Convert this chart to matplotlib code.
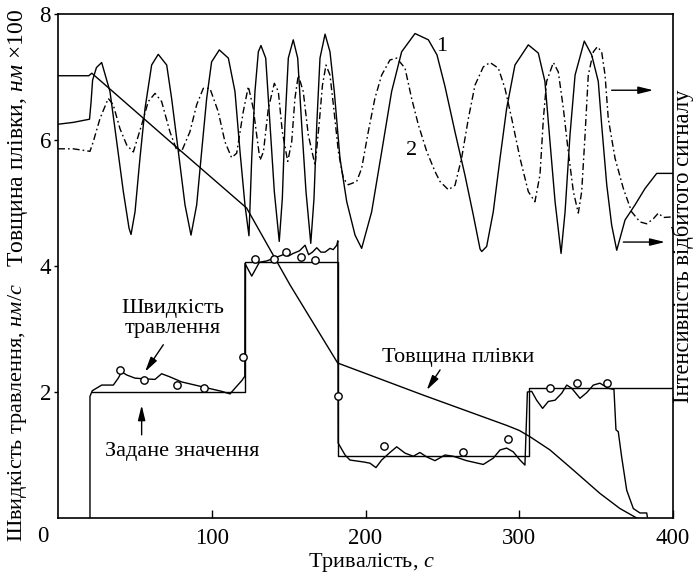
import matplotlib
matplotlib.use("Agg")
import matplotlib.pyplot as plt

plt.rcParams["font.family"] = ["Liberation Serif", "DejaVu Serif"]
plt.rcParams["mathtext.fontset"] = "custom"
plt.rcParams["mathtext.rm"] = "Liberation Serif"
plt.rcParams["mathtext.it"] = "Liberation Serif:italic"

# film thickness, nm x 100
thick_t = [0, 20, 22, 78.3, 122.7, 150.9, 181.9, 237.6, 291.8, 300, 307, 320, 335.2, 352.5, 365.5, 376.4]
thick_v = [7.02, 7.02, 7.06, 5.86, 4.92, 3.70, 2.46, 1.95, 1.47, 1.39, 1.29, 1.08, 0.76, 0.39, 0.15, 0.0]

# set value of etch rate, nm/s
set_t = [22.3, 121.6, 121.6, 181.9, 181.9, 306.5, 306.5, 400]
set_v = [2.0, 2.0, 4.07, 4.07, 0.99, 0.99, 2.07, 2.07]

# measured etch rate, nm/s
rate_t = [20.8, 20.8, 22.3, 28.4, 36.0, 39.2, 41.4, 44.7, 50.1, 55.5, 63.1, 67.4, 72.8,
          80.4, 89.1, 97.8, 106.5, 111.9, 115.1, 119.5, 121.5, 121.6, 123.8, 126.0,
          128.5, 131.0, 135.7, 139.0, 143.3, 146.5, 150.0, 153.0, 157.0, 160.7, 163.0,
          165.5, 168.3, 171.0, 173.7, 176.9, 179.0, 181.3, 182.0, 182.2, 186.7, 189.9,
          198.6, 202.9, 206.8, 210.5, 215.9, 220.3, 225.7, 231.1, 235.4, 239.8, 245.2,
          251.7, 257.1, 265.8, 276.6, 283.1, 287.5, 291.8, 296.1, 300.5, 303.7, 305.3,
          308.1, 311.3, 315.2, 318.9, 323.3, 327.6, 330.9, 334.1, 339.5, 343.9, 348.2,
          352.5, 357.9, 361.6, 362.9, 364.4, 366.6, 369.9, 374.2, 378.5, 382.9, 383.3]
rate_v = [0.0, 1.93, 2.02, 2.11, 2.11, 2.22, 2.32, 2.27, 2.22, 2.21, 2.20, 2.29, 2.24,
          2.16, 2.11, 2.06, 2.01, 1.97, 2.06, 2.18, 2.25, 4.04, 3.94, 3.84,
          3.95, 4.06, 4.08, 4.11, 4.15, 4.18, 4.16, 4.20, 4.24, 4.33, 4.18,
          4.22, 4.29, 4.22, 4.22, 4.28, 4.26, 4.33, 4.40, 1.19, 1.00, 0.92,
          0.89, 0.87, 0.80, 0.92, 1.04, 1.13, 1.03, 0.98, 1.04, 0.97, 0.91,
          1.00, 0.98, 0.91, 0.85, 0.95, 1.08, 1.11, 1.05, 0.92, 0.84, 2.00,
          2.01, 1.87, 1.74, 1.85, 1.87, 1.98, 2.11, 2.06, 1.90, 1.99, 2.11,
          2.14, 2.06, 2.04, 1.40, 1.37, 0.97, 0.44, 0.15, 0.08, 0.08, 0.02]

# measured points (circles)
pts_t = [40.3, 56.2, 77.2, 95.2, 120.1, 128.1, 140.7, 148.1, 158.0, 167.2,
         182.3, 211.9, 263.4, 292.5, 320.0, 337.4, 357.3]
pts_v = [2.35, 2.19, 2.11, 2.07, 2.55, 4.11, 4.11, 4.22, 4.14, 4.10,
         1.93, 1.15, 1.04, 1.26, 2.07, 2.15, 2.15]

# reflected signal, curve 1
sig1_t = [0, 10, 20.5, 21.5, 22.5, 25, 28.4, 33.8, 38.2, 42.5, 46.2, 47.5, 50.1, 53.3,
          56.6, 60.9, 65.2, 70.7, 73.9, 78.3, 82.6, 86.5, 90.2, 93.4, 96.7, 99.9, 104.9,
          110.8, 115.1, 118.4, 121.6, 124.2, 126.0, 128.1, 130.3, 132.0, 135.1, 137.9,
          140.7, 143.9, 145.9, 147.6, 149.8, 153.0, 155.9, 158.5, 161.3, 164.4, 166.5,
          168.3, 170.4, 173.7, 176.9, 179.7, 183.4, 187.8, 193.2, 197.5, 204.0, 210.5,
          217.0, 223.5, 232.2, 240.9, 246.5, 251.7, 258.2, 264.7, 270.1, 274.5, 275.6,
          278.8, 283.1, 287.5, 291.8, 297.2, 305.9, 312.4, 316.7, 320.0, 323.3, 327.2,
          329.8, 333.0, 336.3, 342.3, 347.1, 351.4, 353.6, 356.9, 360.1, 363.4, 368.8,
          375.3, 381.8, 389.4, 400]
sig1_v = [6.25, 6.28, 6.33, 6.60, 6.95, 7.15, 7.23, 6.77, 5.97, 5.18, 4.60, 4.50, 4.86, 5.71,
          6.50, 7.19, 7.36, 7.19, 6.66, 5.81, 4.97, 4.49, 4.97, 5.81, 6.66, 7.24, 7.43,
          7.30, 6.77, 5.81, 4.97, 4.48, 5.71, 6.77, 7.40, 7.50, 7.30, 6.24,
          5.18, 4.39, 5.07, 6.24, 7.30, 7.59, 7.30, 6.24, 5.18, 4.36, 5.07,
          6.24, 7.30, 7.68, 7.40, 6.77, 5.71, 5.02, 4.49, 4.28, 4.86, 5.81,
          6.77, 7.40, 7.69, 7.59, 7.35, 6.85, 6.13, 5.44, 4.81, 4.27, 4.23,
          4.31, 4.86, 5.71, 6.50, 7.19, 7.51, 7.38, 6.93, 5.97, 5.02, 4.20,
          4.86, 6.08, 7.03, 7.57, 7.35, 6.93, 6.24, 5.29, 4.65, 4.25, 4.73,
          4.97, 5.23, 5.47, 5.47]

# reflected signal, curve 2
sig2_t = [0, 10, 20.8, 22.9, 27.3, 32.7, 35.9, 40.3, 44.7, 49.0, 54.4, 58.7, 63.1, 67.4,
          72.8, 77.2, 80.4, 85.8, 90.2, 94.5, 98.8, 104.2, 108.6, 112.9, 116.2, 120.5,
          123.8, 127.0, 129.8, 131.4, 133.6, 136.8, 140.7, 143.3, 145.9, 149.4, 152.0,
          154.1, 156.3, 159.5, 162.8, 167.2, 169.8, 172.0, 174.3, 176.9, 179.1, 182.4,
          185.6, 188.8, 194.2, 197.5, 201.8, 206.1, 210.5, 215.9, 220.3, 225.7, 230.0,
          234.4, 239.8, 245.2, 248.5, 253.9, 258.2, 262.5, 266.9, 271.2, 276.6, 281.0,
          286.4, 290.7, 295.1, 300.5, 305.9, 310.2, 313.5, 315.7, 317.8, 322.2, 325.4,
          328.7, 331.9, 335.2, 338.4, 340.6, 342.8, 344.9, 348.2, 350.8, 353.6, 355.8,
          357.9, 362.3, 367.7, 373.1, 378.5, 382.9, 387.2, 390.5, 393.7, 400]
sig2_v = [5.86, 5.86, 5.82, 5.97, 6.34, 6.66, 6.56, 6.18, 5.92, 5.81, 6.24, 6.61, 6.74, 6.61,
          6.13, 5.84, 5.82, 6.13, 6.56, 6.82, 6.82, 6.45, 5.97, 5.72, 5.79, 6.45,
          6.85, 6.50, 5.97, 5.68, 5.81, 6.50, 6.90, 6.77, 6.13, 5.66, 5.97,
          6.66, 7.03, 6.77, 6.08, 5.60, 6.24, 6.87, 7.19, 7.03, 6.56, 5.81,
          5.39, 5.29, 5.34, 5.55, 6.13, 6.66, 7.03, 7.27, 7.30, 7.14, 6.66,
          6.24, 5.82, 5.50, 5.34, 5.21, 5.28, 5.71, 6.34, 6.87, 7.16, 7.23,
          7.14, 6.82, 6.34, 5.71, 5.18, 5.02, 5.45, 6.34, 6.93, 7.23, 7.08,
          6.50, 5.81, 5.18, 4.84, 5.18, 6.08, 7.03, 7.40, 7.48, 7.40, 7.03,
          6.34, 5.71, 5.23, 4.86, 4.70, 4.67, 4.75, 4.84, 4.77, 4.78]

x_ticks = [100, 200, 300, 400]
y_ticks = [2, 4, 6, 8]

fig = plt.figure(figsize=(6.96, 5.79), dpi=100)
ax = fig.add_axes([58 / 696, 61 / 579, 615 / 696, 504 / 579])

lw = 1.0
ax.plot(sig1_t, sig1_v, color="k", lw=lw)
ax.plot(sig2_t, sig2_v, color="k", lw=lw, dashes=(5, 2.2, 1.2, 2.2))
ax.plot(thick_t, thick_v, color="k", lw=lw)
ax.plot(set_t, set_v, color="k", lw=lw)
ax.plot(rate_t, rate_v, color="k", lw=lw)
ax.plot(pts_t, pts_v, "o", ms=5.3, mfc="white", mec="k", mew=1.0)

ax.set_xlim(0, 400)
ax.set_ylim(0, 8)
ax.set_xticks(x_ticks)
ax.set_yticks(y_ticks)
ax.tick_params(axis="x", direction="in", length=6, width=1, pad=7, labelsize=16.5)
ax.tick_params(axis="y", direction="out", length=3, width=1, pad=2, labelsize=16.5)
for s in ax.spines.values():
    s.set_linewidth(1.2)
ax.text(-9.8, -0.30, "0", fontsize=16.5, ha="center", va="center", clip_on=False)

fs = 16
arrow = dict(arrowstyle="-|>,head_length=0.9,head_width=0.22", color="k", lw=1,
             shrinkA=0, shrinkB=0, mutation_scale=10)
ax.annotate("", xy=(387.2, 6.79), xytext=(360.1, 6.79), arrowprops=arrow)
ax.annotate("", xy=(394.8, 4.38), xytext=(367.7, 4.38), arrowprops=arrow)
ax.annotate("", xy=(56.6, 2.32), xytext=(68.5, 2.75), arrowprops=arrow)
ax.annotate("", xy=(54.4, 1.79), xytext=(54.4, 1.32), arrowprops=arrow)
ax.annotate("", xy=(239.8, 2.03), xytext=(248.5, 2.35), arrowprops=arrow)

ax.text(74.4, 3.17, "Швидкість\nтравлення", fontsize=fs, ha="center", va="center",
        linespacing=1.05)
ax.text(80.7, 1.05, "Задане значення", fontsize=fs, ha="center", va="center")
ax.text(260.4, 2.55, "Товщина плівки", fontsize=fs, ha="center", va="center")
ax.text(249.5, 7.48, "1", fontsize=fs, ha="center", va="center")
ax.text(230, 5.84, "2", fontsize=fs, ha="center", va="center")

fig.text(18 / 696, 1 - 138.5 / 579, r"Товщина плівки, $\mathit{нм}$ ×100", fontsize=17,
         rotation=90, ha="center", va="center")
fig.text(18 / 696, 1 - 412.5 / 579, r"Швидкість травлення, $\mathit{нм/с}$", fontsize=16,
         rotation=90, ha="center", va="center")
fig.text(683 / 696, 1 - 246 / 579, "Інтенсивність відбитого сигналу", fontsize=16.3,
         rotation=90, ha="center", va="center")
fig.text(371 / 696, 1 - 563 / 579, r"Тривалість, $\mathit{с}$", fontsize=16,
         ha="center", va="center")

fig.savefig("out.png", dpi=100)
